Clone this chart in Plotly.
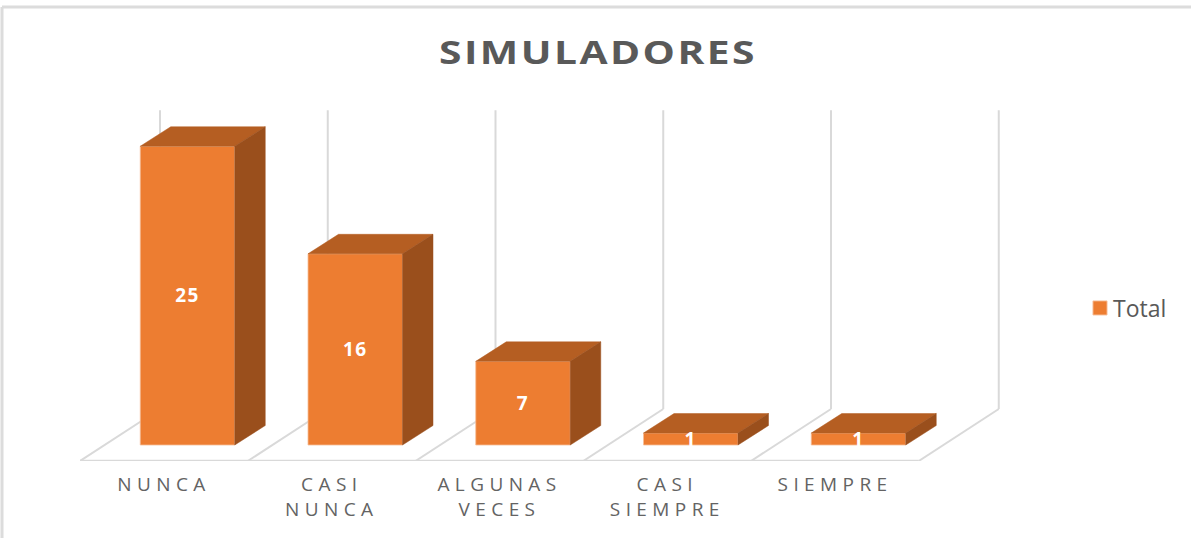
import plotly.graph_objects as go

# Data
categories = ["NUNCA", "CASI<br>NUNCA", "ALGUNAS<br>VECES", "CASI<br>SIEMPRE", "SIEMPRE"]
values = [25, 16, 7, 1, 1]
series_name = "Total"
chart_title = "SIMULADORES"

# Colours
FRONT = "#ED7D31"
TOP = "#B55E22"
SIDE = "#9A4F1C"
GRID = "#D9D9D9"
TEXT = "#595959"
TICK = "#636363"
FONT = "'Open Sans', Lato, sans-serif"

# Canvas geometry
W, H = 1191, 538
PLOT_L, PLOT_R, PLOT_T, PLOT_B = 80, 1000, 0, 461
PX_X = 167.75            # pixels per category
PX_Y = 11.95             # pixels per value unit
BAR_0_PX, ZERO_PX = 187.5, 445

x_range = [(PLOT_L - BAR_0_PX) / PX_X, (PLOT_R - BAR_0_PX) / PX_X]
y_range = [(ZERO_PX - PLOT_B) / PX_Y, (ZERO_PX - PLOT_T) / PX_Y]

bar_w = 94.5 / PX_X
dx, dy = 30.5 / PX_X, 19.5 / PX_Y      # depth of a bar
fx0 = x_range[0]                       # front floor corner
fy0 = y_range[0]
wall_dx, wall_dy = 80 / PX_X, 52 / PX_Y
wall_top = fy0 + wall_dy + 25
label_drop = 1.8 / PX_Y


def paper_x(px):
    return (px - PLOT_L) / (PLOT_R - PLOT_L)


def paper_y(px):
    return (PLOT_B - px) / (PLOT_B - PLOT_T)


idx = list(range(len(values)))
fig = go.Figure()

# Front faces
fig.add_bar(
    x=idx, y=values, width=bar_w, name=series_name,
    marker=dict(color=FRONT, line=dict(color="#F6BE98", width=0.8)),
    hoverinfo="skip",
)


# Top and side faces, derived from the values
def faces(kind):
    xs, ys = [], []
    for i, v in zip(idx, values):
        l, r = i - bar_w / 2, i + bar_w / 2
        if kind == "top":
            xs += [l, r, r + dx, l + dx, l, None]
            ys += [v, v, v + dy, v + dy, v, None]
        else:
            xs += [r, r + dx, r + dx, r, r, None]
            ys += [0, dy, v + dy, v, 0, None]
    return xs, ys


for kind, col in (("top", TOP), ("side", SIDE)):
    xs, ys = faces(kind)
    fig.add_scatter(
        x=xs, y=ys, mode="lines", fill="toself", fillcolor=col,
        line=dict(color=col, width=0.5), showlegend=False, hoverinfo="skip",
    )

# Value labels
fig.add_scatter(
    x=idx, y=[v / 2 - label_drop for v in values], mode="text",
    text=[str(v) for v in values], textposition="middle center",
    textfont=dict(family=FONT, size=19, color="white", weight="bold"),
    showlegend=False, hoverinfo="skip",
)

# Floor and back-wall lines, beneath the bars
shapes = []
line = dict(color=GRID, width=2)
for k in range(len(values) + 1):
    x_front = fx0 + k
    path_x = [x_front, x_front + wall_dx, x_front + wall_dx]
    path_y = [fy0, fy0 + wall_dy, wall_top]
    for a in range(2):
        shapes.append(dict(type="line", xref="x", yref="y", layer="below", line=line,
                           x0=path_x[a], y0=path_y[a], x1=path_x[a + 1], y1=path_y[a + 1]))
shapes.append(dict(type="line", xref="x", yref="y", layer="below", line=line,
                   x0=fx0, y0=fy0 + 0.03, x1=fx0 + len(values), y1=fy0 + 0.03))

# Chart-area border (top and left edges)
border = dict(color="#DCDCDC", width=3)
shapes.append(dict(type="line", xref="paper", yref="paper", line=border,
                   x0=paper_x(2), x1=paper_x(W), y0=paper_y(7), y1=paper_y(7)))
shapes.append(dict(type="line", xref="paper", yref="paper", line=border,
                   x0=paper_x(2), x1=paper_x(2), y0=paper_y(7), y1=paper_y(H)))

fig.update_layout(
    width=W, height=H,
    margin=dict(l=PLOT_L, r=W - PLOT_R, t=PLOT_T, b=H - PLOT_B, pad=0),
    paper_bgcolor="white", plot_bgcolor="white",
    title=dict(
        text=chart_title, x=598 / W, xanchor="center", y=1 - 52 / H, yanchor="middle",
        font=dict(family=FONT, size=33, color=TEXT, weight="bold"),
    ),
    xaxis=dict(
        range=x_range, showgrid=False, zeroline=False, showline=False,
        tickmode="array", tickvals=[i - 0.14 for i in idx], ticktext=categories,
        tickfont=dict(family=FONT, size=19, color=TICK), ticks="", ticklabelstandoff=10,
        tickangle=0,
    ),
    yaxis=dict(range=y_range, visible=False),
    legend=dict(
        x=paper_x(1073), xanchor="left", y=paper_y(308), yanchor="middle",
        font=dict(family=FONT, size=23, color=TEXT), bgcolor="rgba(0,0,0,0)",
        itemclick=False, itemdoubleclick=False,
    ),
    showlegend=True,
    shapes=shapes,
)

post = """
document.body.style.margin = '0';
document.querySelectorAll('.xtick text').forEach(function (t) { t.style.letterSpacing = '5.4px'; });
document.querySelectorAll('.gtitle').forEach(function (t) {
  t.style.letterSpacing = '2px';
  t.setAttribute('textLength', '318');
  t.setAttribute('lengthAdjust', 'spacingAndGlyphs');
});
document.querySelectorAll('.textpoint text').forEach(function (t) { t.style.letterSpacing = '1.5px'; });
document.querySelectorAll('.legendpoints path').forEach(function (p) {
  p.setAttribute('transform', 'translate(27,0) scale(1.17)');
});
"""

fig.write_html("out.html", post_script=post, config={"displayModeBar": False})
